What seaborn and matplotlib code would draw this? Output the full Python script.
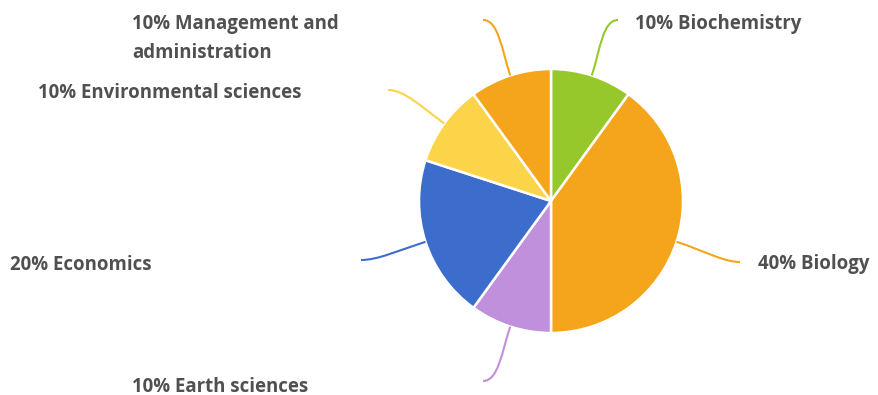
import numpy as np
import matplotlib
matplotlib.use("Agg")
import matplotlib.pyplot as plt
from matplotlib.path import Path
from matplotlib.patches import PathPatch
import seaborn as sns

sns.set_style("white")
plt.rcParams['font.family'] = ['Open Sans', 'DejaVu Sans']

# data
subjects = ["Biochemistry", "Biology", "Earth sciences", "Economics",
            "Environmental sciences", "Management and\nadministration"]
shares = [10, 40, 10, 20, 10, 10]
colors = ["#97c82b", "#f5a51b", "#c190dc", "#3d6dcc", "#fcd44a", "#f5a51b"]

W, H = 879, 395
fig = plt.figure(figsize=(W / 100, H / 100), dpi=100)
ax = fig.add_axes([0, 0, 1, 1])
ax.set_xlim(0, W)
ax.set_ylim(0, H)
ax.set_aspect("equal")
ax.axis("off")

cx, cy, r = 551, H - 201, 132
wedges, _ = ax.pie(shares, colors=colors, startangle=90, counterclock=False,
                   center=(cx, cy), radius=r,
                   wedgeprops=dict(edgecolor="white", linewidth=1.8))
ax.set_xlim(0, W)
ax.set_ylim(0, H)

# label layout (pixel positions, y from top)
line_ends = [(618, 20), (740, 262), (483, 381), (361, 260), (388, 90), (483, 20)]
text_pos = [(635, 23.5), (758, 264.5), (132, 386.5), (10, 264.5), (38, 92.5), (132, 39)]

for w, val, name, col, (ex, ey), (tx, ty) in zip(wedges, shares, subjects, colors,
                                                   line_ends, text_pos):
    ang = np.deg2rad((w.theta1 + w.theta2) / 2)
    dx, dy = np.cos(ang), np.sin(ang)
    sx, sy = cx + r * dx, cy + r * dy
    ey = H - ey
    d = np.hypot(ex - sx, ey - sy)
    c1 = (sx + dx * d * 0.45, sy + dy * d * 0.45)
    side = 1 if ex > sx else -1
    c2 = (ex - side * d * 0.25, ey)
    path = Path([(sx, sy), c1, c2, (ex, ey)],
                [Path.MOVETO, Path.CURVE4, Path.CURVE4, Path.CURVE4])
    ax.add_patch(PathPatch(path, facecolor="none", edgecolor=col, lw=1.5))
    ax.text(tx, H - ty, f"{val}% {name}", ha="left", va="center",
            fontsize=13.4, fontweight="bold", color="#505050", linespacing=1.6)

fig.savefig("out.png", dpi=100)
